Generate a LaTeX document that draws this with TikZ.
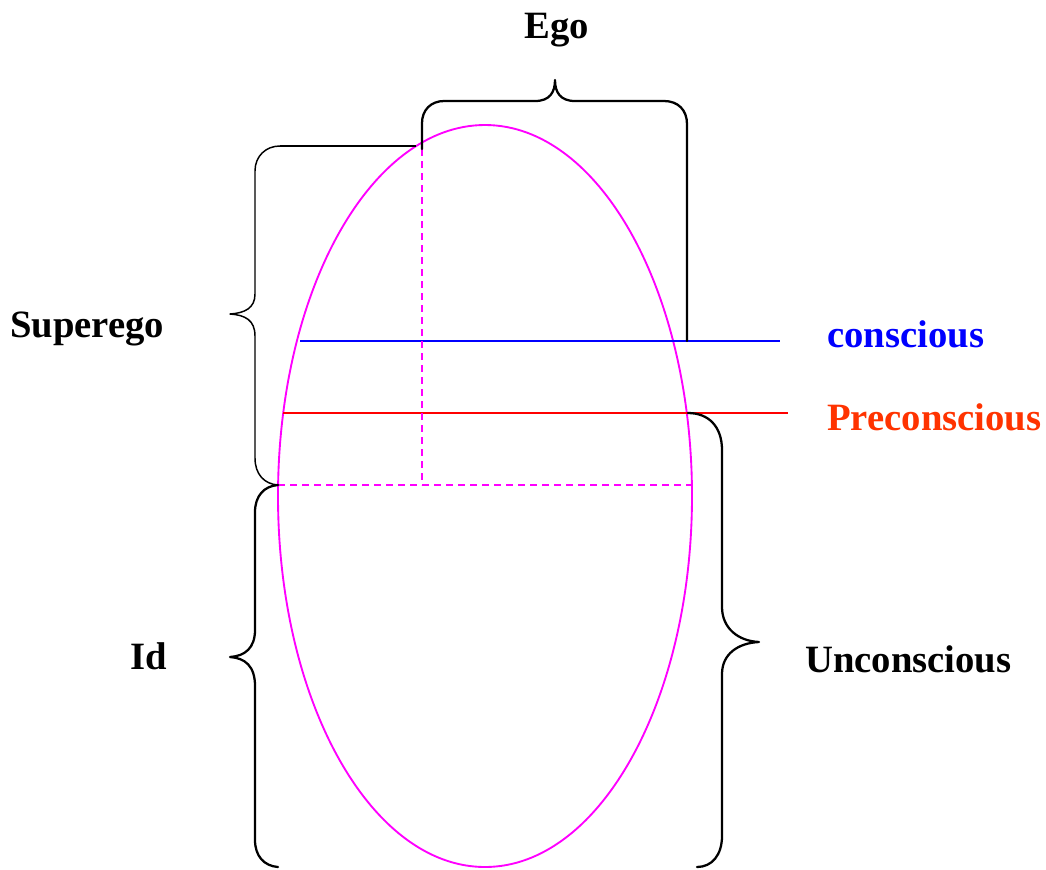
\documentclass[tikz,border=0pt]{standalone}
\usepackage{fontspec}
\setmainfont{Liberation Serif}
\definecolor{mag}{RGB}{255,0,255}
\definecolor{cblue}{RGB}{0,0,255}
\definecolor{cred}{RGB}{255,0,0}
\definecolor{corange}{RGB}{255,51,0}
\tikzset{
  lbl/.style={anchor=base west,inner sep=0pt,font=\fontsize{29pt}{30pt}\selectfont\bfseries},
  bracethick/.style={draw=black,line width=1.7pt,line cap=round,line join=round},
  bracethin/.style={draw=black,line width=1.1pt,line cap=round,line join=round},
  dsh/.style={draw=mag,line width=1.4pt,dash pattern=on 5.25pt off 3.75pt}
}
\begin{document}
\begin{tikzpicture}[x=0.75pt,y=-0.75pt]
\useasboundingbox (0,0) rectangle (1046,869);
% ellipse
\draw[mag,line width=1.4pt] (485,496) ellipse [x radius=207,y radius=371];
% coordinates
\coordinate (egoL) at (422,149);
\coordinate (egoR) at (687,341);
\coordinate (supT) at (280,146);
\coordinate (supTe) at (416,146);
\coordinate (mid) at (278,485);
\coordinate (midR) at (692,485);
\coordinate (vd) at (422,485);
\coordinate (bot) at (278,867);
\coordinate (unT) at (688,413);
\coordinate (unB) at (697,867);
\coordinate (cL) at (300,341);
\coordinate (cR) at (780,341);
\coordinate (pL) at (283,413);
\coordinate (pR) at (788,413);
% conscious / preconscious lines
\draw[cblue,line width=1.3pt] (cL) -- (cR);
\draw[cred,line width=1.3pt] (pL) -- (pR);
% dashed lines
\draw[dsh] (mid) -- (midR);
\draw[dsh] (egoL) -- (vd);
% Ego brace
\draw[bracethick] (egoL) -- (422,123) .. controls (422,110) and (431,101) .. (444,101) -- (535,101)
  .. controls (550,101) and (555,92) .. (555,80)
  .. controls (555,92) and (560,101) .. (575,101) -- (664,101)
  .. controls (678,101) and (687,110) .. (687,124) -- (egoR);
% Superego brace
\draw[line width=1.6pt] (supT) -- (supTe);
\draw[bracethin] (supT) .. controls (266,146) and (255,156) .. (255,171) -- (255,294)
  .. controls (255,308) and (245,313) .. (230,314)
  .. controls (245,315) and (255,320) .. (255,336) -- (255,458)
  .. controls (255,474) and (264,484) .. (mid);
% Id brace
\draw[bracethick] (mid) .. controls (264,486) and (255,496) .. (255,512) -- (255,630)
  .. controls (255,648) and (245,656) .. (230,657)
  .. controls (245,658) and (255,666) .. (255,686) -- (255,840)
  .. controls (255,856) and (264,866) .. (bot);
% Unconscious brace
\draw[bracethick] (unT) .. controls (709,413) and (722,427) .. (722,450) -- (722,607)
  .. controls (722,628) and (738,641) .. (759,642)
  .. controls (738,643) and (722,654) .. (722,674) -- (722,836)
  .. controls (722,855) and (712,867) .. (unB);
% labels
\node[lbl] (ego) at (524,38) {Ego};
\node[lbl] (superego) at (10,337) {Superego};
\node[lbl,text=cblue] (conscious) at (827,347) {conscious};
\node[lbl,text=corange] (preconscious) at (827,430) {Preconscious};
\node[lbl] (id) at (130,669) {Id};
\node[lbl] (unconscious) at (805,672) {Unconscious};
\end{tikzpicture}
\end{document}
